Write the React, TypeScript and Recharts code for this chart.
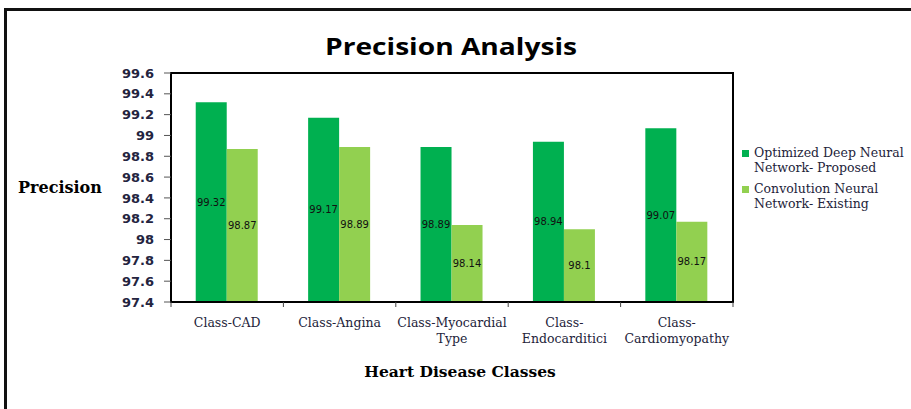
import { BarChart, Bar, XAxis, YAxis, Legend, LabelList, ReferenceArea } from "recharts";

const categories = [
  "Class-CAD",
  "Class-Angina",
  "Class-Myocardial\nType",
  "Class-\nEndocarditici",
  "Class-\nCardiomyopathy",
];
const proposed = [99.32, 99.17, 98.89, 98.94, 99.07];
const existing = [98.87, 98.89, 98.14, 98.1, 98.17];
const yTicks = [97.4, 97.6, 97.8, 98, 98.2, 98.4, 98.6, 98.8, 99, 99.2, 99.4, 99.6];
const proposedName = "Optimized Deep Neural Network- Proposed";
const existingName = "Convolution Neural Network- Existing";

const data = categories.map((name, i) => ({
  name,
  proposed: proposed[i],
  existing: existing[i],
}));

const textColor = "#23233a";
const TICK_SIZE = 5;
const TICK_MARGIN = 8;

// category label plus excel-style tick marks at the band edges
function CategoryTick({ x, y, payload, index }: any) {
  const lines = String(payload.value).split("\n");
  const half = payload.offset || 0;
  const axisY = y - TICK_SIZE - TICK_MARGIN;
  const last = index === categories.length - 1;
  return (
    <g>
      <line x1={x - half} x2={x - half} y1={axisY} y2={axisY + TICK_SIZE} stroke="#444" />
      {last && <line x1={x + half} x2={x + half} y1={axisY} y2={axisY + TICK_SIZE} stroke="#444" />}
      <text x={x} y={y} textAnchor="middle" fill={textColor} fontFamily="DejaVu Serif" fontSize={12.5}>
        {lines.map((l, i) => (
          <tspan key={i} x={x} dy={i === 0 ? 12 : 16}>
            {l}
          </tspan>
        ))}
      </text>
    </g>
  );
}

function LegendBox({ payload }: any) {
  return (
    <div style={{ fontFamily: "DejaVu Serif", fontSize: 12.5, color: textColor, lineHeight: "14.5px" }}>
      {(payload || []).map((p: any) => (
        <div key={p.value} style={{ display: "flex", alignItems: "flex-start", marginBottom: 7 }}>
          <span style={{ width: 7, height: 7, background: p.color, marginTop: 4, marginRight: 5, flex: "none" }} />
          <span>{p.value}</span>
        </div>
      ))}
    </div>
  );
}

export default function App() {
  return (
    <div style={{ position: "fixed", left: 0, top: 0, width: 911, height: 409, overflow: "hidden", background: "#fff" }}>
      <div
        style={{
          position: "absolute",
          left: 4,
          top: 8,
          width: 1000,
          height: 1000,
          border: "3px solid #111",
          boxSizing: "border-box",
        }}
      />
      <svg style={{ position: "absolute", left: 0, top: 0 }} width={911} height={70}>
        <text
          x={451}
          y={55}
          textAnchor="middle"
          fontFamily="Open Sans"
          fontWeight={700}
          fontSize={24}
          textLength={252}
          lengthAdjust="spacingAndGlyphs"
          fill="#000"
        >
          Precision Analysis
        </text>
      </svg>
      <div style={{ position: "absolute", left: 0, top: 0 }}>
        <BarChart
          width={911}
          height={409}
          data={data}
          margin={{ top: 73, right: 178, bottom: 0, left: 0 }}
          barCategoryGap="22%"
          barGap={0}
        >
          <XAxis
            xAxisId="c"
            dataKey="name"
            height={107}
            interval={0}
            tickLine={false}
            tickSize={TICK_SIZE}
            tickMargin={TICK_MARGIN}
            tick={<CategoryTick />}
            axisLine={{ stroke: "#000", strokeWidth: 2 }}
            label={{
              value: "Heart Disease Classes",
              position: "insideBottom",
              offset: 32,
              dx: 8,
              fontFamily: "DejaVu Serif",
              fontWeight: 700,
              fontSize: 15.5,
              fill: "#000",
            }}
          />
          <YAxis
            yAxisId="v"
            width={171}
            domain={[97.4, 99.6]}
            ticks={yTicks}
            interval={0}
            tickSize={7}
            tickMargin={10}
            tickFormatter={(v: number) => String(+v.toFixed(1))}
            tick={{ fontFamily: "DejaVu Sans", fontWeight: 700, fontSize: 13, fill: "#24243f" }}
            tickLine={{ stroke: "#555" }}
            axisLine={{ stroke: "#000", strokeWidth: 2 }}
            label={{
              value: "Precision",
              position: "insideLeft",
              offset: 18,
              fontFamily: "DejaVu Serif",
              fontWeight: 700,
              fontSize: 16,
              fill: "#000",
            }}
          />
          <ReferenceArea
            xAxisId="c"
            yAxisId="v"
            x1={categories[0]}
            x2={categories[categories.length - 1]}
            y1={yTicks[0]}
            y2={yTicks[yTicks.length - 1]}
            fill="none"
            fillOpacity={0}
            stroke="#000"
            strokeWidth={2}
            ifOverflow="visible"
          />
          <Legend
            layout="vertical"
            align="center"
            verticalAlign="middle"
            itemSorter={null as any}
            content={<LegendBox />}
            wrapperStyle={{ left: 742, top: 146, width: 168 }}
          />
          <Bar xAxisId="c" yAxisId="v" dataKey="proposed" name={proposedName} fill="#00B050" isAnimationActive={false}>
            <LabelList dataKey="proposed" position="center" fontFamily="DejaVu Sans" fontSize={10} fill="#111" />
          </Bar>
          <Bar xAxisId="c" yAxisId="v" dataKey="existing" name={existingName} fill="#92D050" isAnimationActive={false}>
            <LabelList dataKey="existing" position="center" fontFamily="DejaVu Sans" fontSize={10} fill="#111" />
          </Bar>
        </BarChart>
      </div>
    </div>
  );
}
